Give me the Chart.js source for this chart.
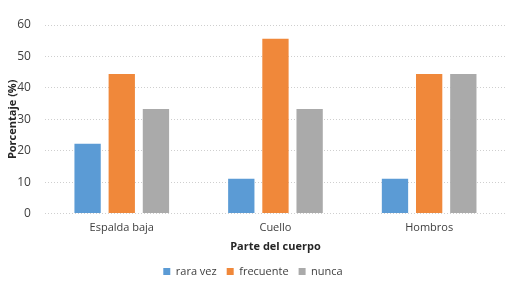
<!DOCTYPE html>
<html><head><meta charset="utf-8">
<script src="https://cdn.jsdelivr.net/npm/chart.js@4/dist/chart.umd.min.js"></script>
<style>html,body{margin:0;padding:0;background:#fff}#w{width:514px;height:281px}</style>
</head><body><div id="w"><canvas id="c"></canvas></div>
<script>
const categories = ["Espalda baja", "Cuello", "Hombros"];
const rara = [22.2, 11.1, 11.1];
const frecuente = [44.4, 55.6, 44.4];
const nunca = [33.3, 33.3, 44.4];
const yTicks = [0, 10, 20, 30, 40, 50, 60];
const F = "'Open Sans', Lato, sans-serif";
Chart.defaults.font.family = F;
Chart.defaults.color = "#404040";
new Chart(document.getElementById("c"), {
  type: "bar",
  data: {
    labels: categories,
    datasets: [
      {label: "rara vez", data: rara, backgroundColor: "#5B9BD5"},
      {label: "frecuente", data: frecuente, backgroundColor: "#F0883A"},
      {label: "nunca", data: nunca, backgroundColor: "#AAAAAA"}
    ]
  },
  options: {
    responsive: true, maintainAspectRatio: false, animation: false,
    devicePixelRatio: 1,
    categoryPercentage: 0.667, barPercentage: 0.77,
    layout: {padding: {left: 0, right: 8, top: 25, bottom: -6}},
    plugins: {
      legend: {position: "bottom", labels: {usePointStyle: true, pointStyle: "rect", boxWidth: 7, boxHeight: 7, padding: 10, font: {size: 11}, color: "#404040"}},
      tooltip: {enabled: false}
    },
    scales: {
      x: {
        grid: {display: false, drawTicks: false},
        border: {display: false},
        ticks: {font: {size: 11}, color: "#404040", padding: 8},
        title: {display: true, text: "Parte del cuerpo", font: {size: 11, weight: "bold"}, color: "#262626", padding: {top: -3, bottom: 3}}
      },
      y: {
        min: 0, max: 60,
        afterBuildTicks: s => { s.ticks = yTicks.map(v => ({value: v})); },
        grid: {color: "#CFCFCF", drawTicks: false, lineWidth: 1},
        border: {display: false, dash: [1, 2]},
        ticks: {font: {size: 12}, color: "#404040", padding: 14},
        title: {display: true, text: "Porcentaje (%)", font: {size: 11, weight: "bold"}, color: "#262626", padding: {top: 6, bottom: -16}}
      }
    }
  }
});
</script></body></html>
